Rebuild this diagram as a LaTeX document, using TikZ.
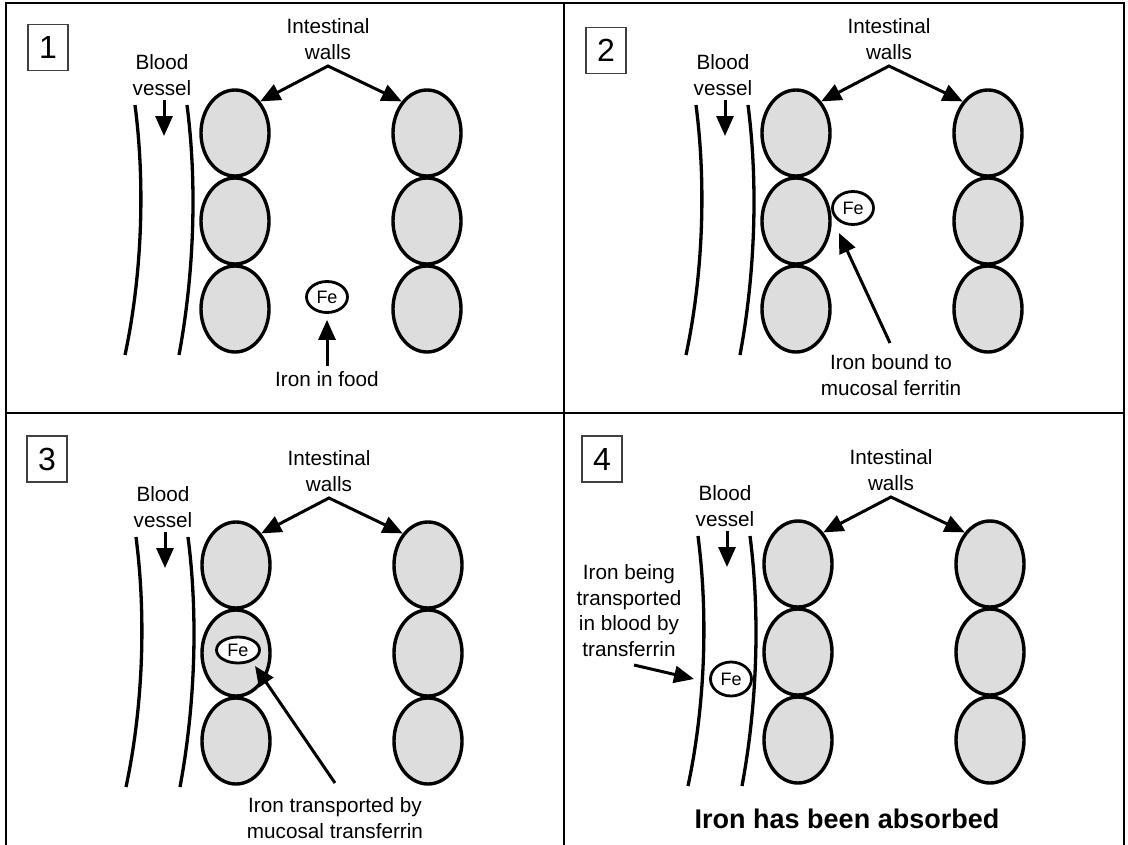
\documentclass[tikz,border=0pt]{standalone}
\usepackage{fontspec}
\setmainfont{Liberation Sans}
\usetikzlibrary{shapes.geometric,arrows.meta}
\definecolor{cellgray}{RGB}{221,221,221}
\tikzset{
  cell/.style={ellipse,draw,line width=3.4pt,fill=cellgray,minimum width=68pt,minimum height=86pt,inner sep=0pt},
  fe/.style={ellipse,draw,line width=2.8pt,fill=white,minimum width=41pt,minimum height=31pt,inner sep=0pt,font=\fontsize{18}{18}\selectfont},
  lbl/.style={align=center,inner sep=0pt,font=\fontsize{20.7}{25.5}\selectfont},
  arr/.style={line width=3pt,-{Triangle[length=20pt,width=17pt]}},
  darr/.style={line width=3pt,{Triangle[length=20pt,width=17pt]}-{Triangle[length=20pt,width=17pt]}},
  vessel/.style={line width=3.3pt},
  numbox/.style={draw,line width=1.4pt,draw=black!75,minimum width=40pt,minimum height=46pt,inner sep=0pt,font=\fontsize{32}{32}\selectfont},
  frame/.style={line width=2.4pt}
}
\newcommand{\wallpanel}[1]{%
  \node[cell] (#1l1) at (235,133) {};
  \node[cell] (#1l2) at (235,221) {};
  \node[cell] (#1l3) at (235,309) {};
  \node[cell] (#1r1) at (427,133) {};
  \node[cell] (#1r2) at (427,221) {};
  \node[cell] (#1r3) at (427,309) {};
  \draw[vessel] (135,105) .. controls (146,190) and (141,280) .. (125,355);
  \draw[vessel] (187,105) .. controls (198,190) and (193,280) .. (179,355);
  \node[lbl] (#1bv) at (162,75) {Blood\\vessel};
  \coordinate (#1bvtail) at (164,100);
  \coordinate (#1bvtip) at (164,136);
  \draw[arr] (#1bvtail) -- (#1bvtip);
  \node[lbl] (#1iw) at (328,39) {Intestinal\\walls};
  \coordinate (#1apex) at (328,66);
  \draw[darr] (#1l1.north east) -- (#1apex) -- (#1r1.north west);
}
\begin{document}
\begin{tikzpicture}[x=1pt,y=-1pt]
\useasboundingbox (0,0) rectangle (1128,844);
\fill[white] (0,0) rectangle (1128,844);
% frame
\draw[frame] (6,845) -- (6,3) -- (1124,3) -- (1124,845);
\draw[frame] (564,3) -- (564,845);
\draw[frame] (6,413) -- (1124,413);
% panels
\begin{scope}\wallpanel{a}\end{scope}
\begin{scope}[shift={(561,0)}]\wallpanel{b}\end{scope}
\begin{scope}[shift={(1,432)}]\wallpanel{c}\end{scope}
\begin{scope}[shift={(563,431)}]\wallpanel{d}\end{scope}
% number boxes
\node[numbox] (n1) at (48,47.5) {1};
\node[numbox] (n2) at (606,50.5) {2};
\node[numbox] (n3) at (47,459) {3};
\node[numbox] (n4) at (602,459) {4};
% panel 1
\node[fe] (fe1) at (327,297) {Fe};
\node[lbl] (food) at (327,379) {Iron in food};
\draw[arr,shorten <=5pt,shorten >=6pt] (food.north) -- (fe1.south);
% panel 2
\node[fe,minimum height=33pt] (fe2) at (853,208) {Fe};
\node[lbl] (bound) at (891,375) {Iron bound to\\mucosal ferritin};
\coordinate (tail2) at (890,343);
\coordinate (tip2) at (839,233);
\draw[arr] (tail2) -- (tip2);
% panel 3
\node[fe,minimum width=43pt,minimum height=26pt] (fe3) at (238,650) {Fe};
\node[lbl] (transp) at (335,818) {Iron transported by\\mucosal transferrin};
\coordinate (tail3) at (335,783);
\coordinate (tip3) at (255,666);
\draw[arr] (tail3) -- (tip3);
% panel 4
\node[fe,minimum height=34pt] (fe4) at (731,679) {Fe};
\node[lbl] (being) at (629,610.5) {Iron being\\transported\\in blood by\\transferrin};
\coordinate (tail4) at (634,665);
\coordinate (tip4) at (694,679);
\draw[arr] (tail4) -- (tip4);
\node[inner sep=0pt,font=\fontsize{27}{27}\selectfont\bfseries] (absorbed) at (847,819) {Iron has been absorbed};
\end{tikzpicture}
\end{document}
